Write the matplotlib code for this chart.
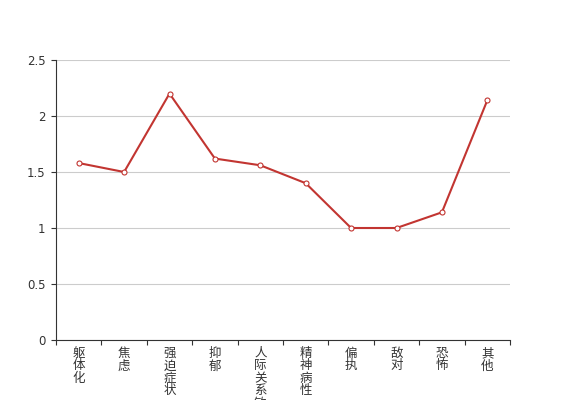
import matplotlib
matplotlib.use("Agg")
import matplotlib.pyplot as plt
import numpy as np

plt.rcParams['font.family'] = ['Noto Sans CJK SC', 'DejaVu Sans']

# data
categories = ["躯体化", "焦虑", "强迫症状", "抑郁", "人际关系敏感",
              "精神病性", "偏执", "敌对", "恐怖", "其他"]
values = [1.58, 1.50, 2.20, 1.62, 1.56, 1.40, 1.00, 1.00, 1.14, 2.14]
y_ticks = [0, 0.5, 1, 1.5, 2, 2.5]
y_tick_labels = ["0", "0.5", "1", "1.5", "2", "2.5"]

fig = plt.figure(figsize=(5.67, 4.0), dpi=100, facecolor='white')
ax = fig.add_axes([56 / 567, 60 / 400, 454 / 567, 280 / 400])

x = np.arange(len(categories))
ax.plot(x, values, color='#c23531', lw=1.5, marker='o', ms=3.6,
        mfc='white', mec='#c23531', mew=0.8, zorder=3, clip_on=False)

ax.set_xlim(-0.5, len(categories) - 0.5)
ax.set_ylim(0, 2.5)

# grid
ax.set_yticks(y_ticks)
ax.set_yticklabels(y_tick_labels, fontfamily='DejaVu Sans', fontsize=8.5, color='#333333')
ax.yaxis.grid(True, color='#cccccc', lw=0.8)
ax.set_axisbelow(True)

# category ticks at boundaries
ax.set_xticks(np.arange(-0.5, len(categories), 1.0), minor=True)
ax.set_xticks(x)
ax.set_xticklabels(['\n'.join(c) for c in categories], fontsize=9,
                   color='#333333', linespacing=0.95, va='top')
ax.tick_params(axis='x', which='major', length=0, pad=5)
ax.tick_params(axis='x', which='minor', length=3.6, width=0.8, color='#333333', direction='out')
ax.tick_params(axis='y', length=3.6, width=0.8, color='#333333', pad=4)

for s in ['top', 'right']:
    ax.spines[s].set_visible(False)
for s in ['left', 'bottom']:
    ax.spines[s].set_color('#333333')
    ax.spines[s].set_linewidth(0.8)

fig.savefig('out.png', dpi=100, facecolor='white')
